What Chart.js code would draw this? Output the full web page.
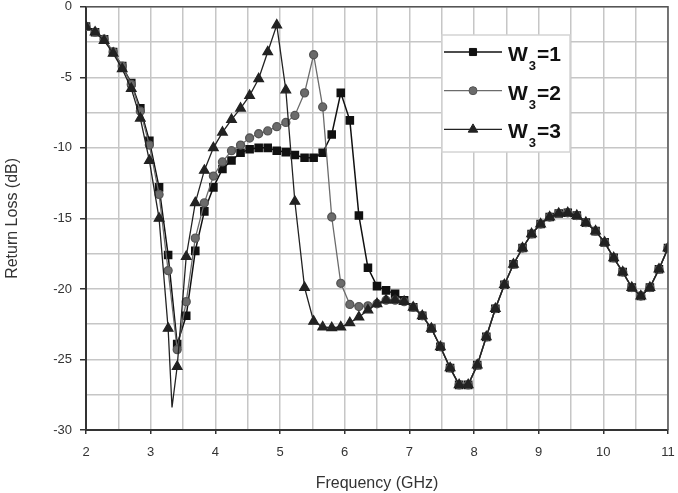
<!DOCTYPE html>
<html>
<head>
<meta charset="utf-8">
<title>Return Loss vs Frequency</title>
<script src="https://cdn.jsdelivr.net/npm/chart.js"></script>
<style>
  html, body { margin: 0; padding: 0; background: #fff; }
</style>
</head>
<body>
<canvas id="myChart" width="678" height="493"></canvas>
<script>
// frequency (GHz) of the plotted samples
const freq = [2.00, 2.14, 2.28, 2.42, 2.56, 2.70, 2.84, 2.98, 3.13, 3.27,
              3.41, 3.55, 3.69, 3.83, 3.97, 4.11, 4.25, 4.39, 4.53, 4.67,
              4.81, 4.95, 5.09, 5.23, 5.38, 5.52, 5.66, 5.80, 5.94, 6.08,
              6.22, 6.36, 6.50, 6.64, 6.78, 6.92, 7.06, 7.20, 7.34, 7.48,
              7.63, 7.77, 7.91, 8.05, 8.19, 8.33, 8.47, 8.61, 8.75, 8.89,
              9.03, 9.17, 9.31, 9.45, 9.59, 9.73, 9.88, 10.02, 10.16, 10.30,
              10.44, 10.58, 10.72, 10.86, 11.00];

// return loss (dB) for W3 = 1, 2, 3
const w1 = [-1.4, -1.8, -2.3, -3.2, -4.2, -5.4, -7.2, -9.5, -12.8, -17.6,
            -23.9, -21.9, -17.3, -14.5, -12.8, -11.5, -10.9, -10.35, -10.1, -10.0,
            -10.0, -10.2, -10.3, -10.5, -10.7, -10.7, -10.35, -9.05, -6.1, -8.05,
            -14.8, -18.5, -19.8, -20.1, -20.35, -20.8, -21.3, -21.9, -22.8, -24.1,
            -25.6, -26.8, -26.8, -25.4, -23.4, -21.4, -19.7, -18.25, -17.1, -16.1,
            -15.4, -14.9, -14.65, -14.6, -14.8, -15.3, -15.9, -16.7, -17.8, -18.8,
            -19.9, -20.5, -19.9, -18.6, -17.1];
const w2 = [-1.4, -1.8, -2.3, -3.2, -4.2, -5.5, -7.4, -9.8, -13.3, -18.7,
            -24.3, -20.9, -16.4, -13.9, -12.0, -11.0, -10.2, -9.8, -9.3, -9.0,
            -8.8, -8.5, -8.2, -7.7, -6.1, -3.4, -7.1, -14.9, -19.6, -21.1,
            -21.25, -21.2, -21.05, -20.8, -20.8, -20.9, -21.3, -21.9, -22.8, -24.1,
            -25.6, -26.8, -26.8, -25.4, -23.4, -21.4, -19.7, -18.25, -17.1, -16.1,
            -15.4, -14.9, -14.65, -14.6, -14.8, -15.3, -15.9, -16.7, -17.8, -18.8,
            -19.9, -20.5, -19.9, -18.6, -17.1];
const w3 = [-1.4, -1.8, -2.4, -3.3, -4.4, -5.8, -7.9, -10.9, -15.0, -22.8,
            -25.5, -17.7, -13.9, -11.6, -10.0, -8.9, -8.0, -7.2, -6.3, -5.1,
            -3.2, -1.3, -5.9, -13.8, -19.9, -22.3, -22.7, -22.75, -22.7, -22.4,
            -22.0, -21.5, -21.05, -20.8, -20.8, -20.9, -21.3, -21.9, -22.8, -24.1,
            -25.6, -26.8, -26.8, -25.4, -23.4, -21.4, -19.7, -18.25, -17.1, -16.1,
            -15.4, -14.9, -14.65, -14.6, -14.8, -15.3, -15.9, -16.7, -17.8, -18.8,
            -19.9, -20.5, -19.9, -18.6, -17.1];
// sharp minimum of the W3=3 curve, between two markers
const w3DipFreq = 3.33;
const w3DipLoss = -28.4;

const widths = [1, 2, 3];

const FONT = "'Liberation Sans', Arial, sans-serif";

function toPoints(values) {
  return freq.map((f, i) => ({ x: f, y: values[i] }));
}
const w3Points = toPoints(w3);
w3Points.splice(10, 0, { x: w3DipFreq, y: w3DipLoss, noMarker: true });

// legend drawn inside the plot, with subscript
const insideLegend = {
  id: 'insideLegend',
  afterDatasetsDraw(chart) {
    const ctx = chart.ctx;
    ctx.save();
    ctx.fillStyle = '#fff';
    ctx.fillRect(442, 35, 128, 117);
    ctx.strokeStyle = '#d4d4d4';
    ctx.lineWidth = 1.5;
    ctx.strokeRect(442, 35, 128, 117);
    chart.data.datasets.forEach((ds, i) => {
      const y = 52 + i * 38.7;
      ctx.strokeStyle = ds.borderColor;
      ctx.lineWidth = ds.borderWidth;
      ctx.beginPath();
      ctx.moveTo(444, y);
      ctx.lineTo(502, y);
      ctx.stroke();
      ctx.fillStyle = ds.pointBackgroundColor;
      ctx.strokeStyle = ds.pointBorderColor;
      ctx.lineWidth = 1;
      Chart.helpers.drawPoint(ctx, { pointStyle: ds.pointStyle, radius: ds.legendRadius, rotation: 0, borderWidth: 1 }, 473, y);
      ctx.fillStyle = '#111';
      ctx.textBaseline = 'alphabetic';
      ctx.textAlign = 'left';
      ctx.font = 'bold 21px ' + FONT;
      ctx.fillText('W', 508, y + 9);
      const wW = ctx.measureText('W').width;
      ctx.font = 'bold 13px ' + FONT;
      ctx.fillText('3', 508 + wW + 1, y + 18);
      const sW = ctx.measureText('3').width;
      ctx.font = 'bold 21px ' + FONT;
      ctx.fillText('=' + widths[i], 508 + wW + sW + 2, y + 9);
    });
    ctx.restore();
  }
};

// top and right frame of the plot
const frame = {
  id: 'frame',
  afterDraw(chart) {
    const a = chart.chartArea;
    const ctx = chart.ctx;
    ctx.save();
    ctx.strokeStyle = '#555';
    ctx.lineWidth = 1.5;
    ctx.beginPath();
    ctx.moveTo(a.left, a.top);
    ctx.lineTo(a.right, a.top);
    ctx.lineTo(a.right, a.bottom);
    ctx.stroke();
    ctx.restore();
  }
};

const isMajor = (v, step) => Math.abs(v / step - Math.round(v / step)) < 1e-6;

new Chart(document.getElementById('myChart').getContext('2d'), {
  type: 'line',
  data: {
    datasets: [
      {
        label: 'W₃=' + widths[0], data: toPoints(w1), order: 2,
        borderColor: '#111', borderWidth: 1.5,
        pointStyle: 'rect', pointRadius: 5, legendRadius: 5,
        pointBackgroundColor: '#111', pointBorderColor: '#111'
      },
      {
        label: 'W₃=' + widths[1], data: toPoints(w2), order: 1,
        borderColor: '#6b6b6b', borderWidth: 1.3,
        pointStyle: 'circle', pointRadius: 4, legendRadius: 4,
        pointBackgroundColor: '#6b6b6b', pointBorderColor: '#555'
      },
      {
        label: 'W₃=' + widths[2], data: w3Points, order: 0,
        borderColor: '#222', borderWidth: 1.3,
        pointStyle: 'triangle', legendRadius: 5.5,
        pointRadius: c => (c.raw && c.raw.noMarker) ? 0 : 5.5,
        pointBackgroundColor: '#222', pointBorderColor: '#222'
      }
    ]
  },
  options: {
    responsive: false,
    animation: false,
    events: [],
    layout: { padding: { top: 3, right: 10, left: 0, bottom: 0 } },
    plugins: { legend: { display: false }, tooltip: { enabled: false } },
    scales: {
      x: {
        type: 'linear', min: 2, max: 11,
        afterFit(s) { s.height = 63; s.paddingLeft = 0; s.paddingRight = 0; },
        border: { color: '#333', width: 2 },
        grid: {
          color: '#c6c6c6', lineWidth: 1.5, tickLength: 4,
          tickColor: c => isMajor(c.tick.value, 1) ? '#333' : 'rgba(0,0,0,0)'
        },
        ticks: {
          stepSize: 0.5, padding: 11, color: '#333', maxRotation: 0, autoSkip: false,
          font: { family: FONT, size: 13 },
          callback: v => isMajor(v, 1) ? String(v) : ''
        },
        title: {
          display: true, text: 'Frequency (GHz)', color: '#333',
          font: { family: FONT, size: 16 }, padding: { top: 4, bottom: 0 }
        }
      },
      y: {
        type: 'linear', min: -30, max: 0,
        afterFit(s) { s.width = 86; s.paddingTop = 0; s.paddingBottom = 0; },
        border: { color: '#333', width: 2 },
        grid: {
          color: '#c6c6c6', lineWidth: 1.5, tickLength: 6,
          tickColor: c => isMajor(c.tick.value, 5) ? '#333' : 'rgba(0,0,0,0)'
        },
        ticks: {
          stepSize: 2.5, padding: 8, color: '#333', autoSkip: false,
          font: { family: FONT, size: 13 },
          callback: v => isMajor(v, 5) ? String(v) : ''
        },
        title: {
          display: true, text: 'Return Loss (dB)', color: '#333',
          font: { family: FONT, size: 16 }, padding: { top: 3, bottom: 0 }
        }
      }
    }
  },
  plugins: [insideLegend, frame]
});
</script>
</body>
</html>
